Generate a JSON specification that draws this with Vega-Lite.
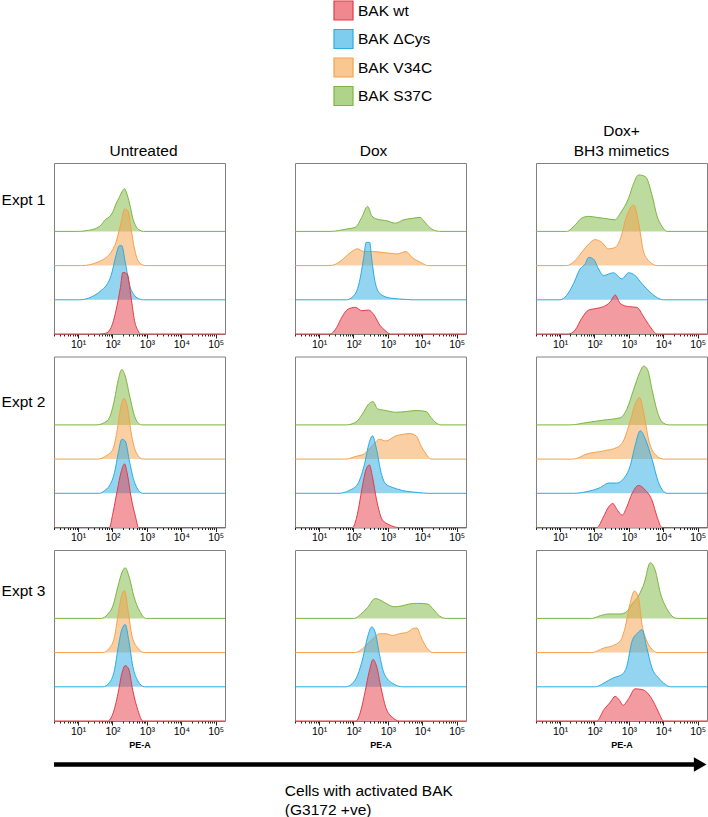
{
"$schema":"https://vega.github.io/schema/vega-lite/v6.json",
"padding":0,
"config":{"font":"Liberation Sans","view":{"stroke":"#808080","strokeWidth":1},
"axis":{"grid":false,"domain":false,"tickColor":"#222","labelColor":"#000","labelFont":"Liberation Sans"},
"title":{"fontSize":15.5,"fontWeight":"normal","color":"#000","offset":4,"lineHeight":20,"font":"Liberation Sans","frame":"group"},
"legend":{"orient":"none","legendX":279,"legendY":-163,"symbolType":"square","symbolSize":361,"labelFontSize":15.5,"labelColor":"#000","rowPadding":3.5,"labelOffset":4,"padding":0,"labelLimit":300}},
"datasets":{"hist":[
{"expt":1,"cond":"Untreated","bak":"BAK S37C","pe":0.3,"n":0},{"expt":1,"cond":"Untreated","bak":"BAK S37C","pe":1.0,"n":0},{"expt":1,"cond":"Untreated","bak":"BAK S37C","pe":1.3,"n":0.03},{"expt":1,"cond":"Untreated","bak":"BAK S37C","pe":1.5,"n":0.08},{"expt":1,"cond":"Untreated","bak":"BAK S37C","pe":1.65,"n":0.17},{"expt":1,"cond":"Untreated","bak":"BAK S37C","pe":1.8,"n":0.35},{"expt":1,"cond":"Untreated","bak":"BAK S37C","pe":1.9,"n":0.42},{"expt":1,"cond":"Untreated","bak":"BAK S37C","pe":2.0,"n":0.55},{"expt":1,"cond":"Untreated","bak":"BAK S37C","pe":2.1,"n":0.8},{"expt":1,"cond":"Untreated","bak":"BAK S37C","pe":2.2,"n":1.0},{"expt":1,"cond":"Untreated","bak":"BAK S37C","pe":2.3,"n":1.2},{"expt":1,"cond":"Untreated","bak":"BAK S37C","pe":2.35,"n":1.25},{"expt":1,"cond":"Untreated","bak":"BAK S37C","pe":2.4,"n":1.15},{"expt":1,"cond":"Untreated","bak":"BAK S37C","pe":2.5,"n":0.8},{"expt":1,"cond":"Untreated","bak":"BAK S37C","pe":2.6,"n":0.35},{"expt":1,"cond":"Untreated","bak":"BAK S37C","pe":2.7,"n":0.12},{"expt":1,"cond":"Untreated","bak":"BAK S37C","pe":2.8,"n":0.03},{"expt":1,"cond":"Untreated","bak":"BAK S37C","pe":2.9,"n":0},{"expt":1,"cond":"Untreated","bak":"BAK S37C","pe":5.27,"n":0},
{"expt":1,"cond":"Untreated","bak":"BAK V34C","pe":0.3,"n":0},{"expt":1,"cond":"Untreated","bak":"BAK V34C","pe":1.1,"n":0},{"expt":1,"cond":"Untreated","bak":"BAK V34C","pe":1.57,"n":0.1},{"expt":1,"cond":"Untreated","bak":"BAK V34C","pe":1.82,"n":0.24},{"expt":1,"cond":"Untreated","bak":"BAK V34C","pe":1.96,"n":0.39},{"expt":1,"cond":"Untreated","bak":"BAK V34C","pe":2.1,"n":0.68},{"expt":1,"cond":"Untreated","bak":"BAK V34C","pe":2.25,"n":1.26},{"expt":1,"cond":"Untreated","bak":"BAK V34C","pe":2.35,"n":1.65},{"expt":1,"cond":"Untreated","bak":"BAK V34C","pe":2.45,"n":1.6},{"expt":1,"cond":"Untreated","bak":"BAK V34C","pe":2.54,"n":1.07},{"expt":1,"cond":"Untreated","bak":"BAK V34C","pe":2.64,"n":0.49},{"expt":1,"cond":"Untreated","bak":"BAK V34C","pe":2.74,"n":0.15},{"expt":1,"cond":"Untreated","bak":"BAK V34C","pe":2.88,"n":0.02},{"expt":1,"cond":"Untreated","bak":"BAK V34C","pe":2.95,"n":0},{"expt":1,"cond":"Untreated","bak":"BAK V34C","pe":5.27,"n":0},
{"expt":1,"cond":"Untreated","bak":"BAK ΔCys","pe":0.3,"n":0},{"expt":1,"cond":"Untreated","bak":"BAK ΔCys","pe":1.05,"n":0},{"expt":1,"cond":"Untreated","bak":"BAK ΔCys","pe":1.38,"n":0.08},{"expt":1,"cond":"Untreated","bak":"BAK ΔCys","pe":1.67,"n":0.27},{"expt":1,"cond":"Untreated","bak":"BAK ΔCys","pe":1.82,"n":0.42},{"expt":1,"cond":"Untreated","bak":"BAK ΔCys","pe":1.96,"n":0.71},{"expt":1,"cond":"Untreated","bak":"BAK ΔCys","pe":2.1,"n":1.29},{"expt":1,"cond":"Untreated","bak":"BAK ΔCys","pe":2.2,"n":1.58},{"expt":1,"cond":"Untreated","bak":"BAK ΔCys","pe":2.27,"n":1.58},{"expt":1,"cond":"Untreated","bak":"BAK ΔCys","pe":2.37,"n":1.1},{"expt":1,"cond":"Untreated","bak":"BAK ΔCys","pe":2.5,"n":0.42},{"expt":1,"cond":"Untreated","bak":"BAK ΔCys","pe":2.64,"n":0.13},{"expt":1,"cond":"Untreated","bak":"BAK ΔCys","pe":2.79,"n":0.02},{"expt":1,"cond":"Untreated","bak":"BAK ΔCys","pe":2.9,"n":0},{"expt":1,"cond":"Untreated","bak":"BAK ΔCys","pe":5.27,"n":0},
{"expt":1,"cond":"Untreated","bak":"BAK wt","pe":0.3,"n":0},{"expt":1,"cond":"Untreated","bak":"BAK wt","pe":1.6,"n":0},{"expt":1,"cond":"Untreated","bak":"BAK wt","pe":1.8,"n":0.02},{"expt":1,"cond":"Untreated","bak":"BAK wt","pe":1.96,"n":0.19},{"expt":1,"cond":"Untreated","bak":"BAK wt","pe":2.1,"n":0.68},{"expt":1,"cond":"Untreated","bak":"BAK wt","pe":2.23,"n":1.36},{"expt":1,"cond":"Untreated","bak":"BAK wt","pe":2.3,"n":1.8},{"expt":1,"cond":"Untreated","bak":"BAK wt","pe":2.43,"n":1.75},{"expt":1,"cond":"Untreated","bak":"BAK wt","pe":2.54,"n":1.07},{"expt":1,"cond":"Untreated","bak":"BAK wt","pe":2.64,"n":0.39},{"expt":1,"cond":"Untreated","bak":"BAK wt","pe":2.74,"n":0.1},{"expt":1,"cond":"Untreated","bak":"BAK wt","pe":2.82,"n":0},{"expt":1,"cond":"Untreated","bak":"BAK wt","pe":5.27,"n":0},

{"expt":1,"cond":"Dox","bak":"BAK S37C","pe":0.3,"n":0},{"expt":1,"cond":"Dox","bak":"BAK S37C","pe":1.32,"n":0},{"expt":1,"cond":"Dox","bak":"BAK S37C","pe":1.8,"n":0.07},{"expt":1,"cond":"Dox","bak":"BAK S37C","pe":2.05,"n":0.12},{"expt":1,"cond":"Dox","bak":"BAK S37C","pe":2.24,"n":0.41},{"expt":1,"cond":"Dox","bak":"BAK S37C","pe":2.41,"n":0.73},{"expt":1,"cond":"Dox","bak":"BAK S37C","pe":2.53,"n":0.46},{"expt":1,"cond":"Dox","bak":"BAK S37C","pe":2.68,"n":0.36},{"expt":1,"cond":"Dox","bak":"BAK S37C","pe":2.97,"n":0.31},{"expt":1,"cond":"Dox","bak":"BAK S37C","pe":3.21,"n":0.24},{"expt":1,"cond":"Dox","bak":"BAK S37C","pe":3.46,"n":0.34},{"expt":1,"cond":"Dox","bak":"BAK S37C","pe":3.7,"n":0.38},{"expt":1,"cond":"Dox","bak":"BAK S37C","pe":3.94,"n":0.41},{"expt":1,"cond":"Dox","bak":"BAK S37C","pe":4.04,"n":0.31},{"expt":1,"cond":"Dox","bak":"BAK S37C","pe":4.23,"n":0.1},{"expt":1,"cond":"Dox","bak":"BAK S37C","pe":4.43,"n":0.01},{"expt":1,"cond":"Dox","bak":"BAK S37C","pe":4.5,"n":0},{"expt":1,"cond":"Dox","bak":"BAK S37C","pe":5.27,"n":0},
{"expt":1,"cond":"Dox","bak":"BAK V34C","pe":0.3,"n":0},{"expt":1,"cond":"Dox","bak":"BAK V34C","pe":1.32,"n":0},{"expt":1,"cond":"Dox","bak":"BAK V34C","pe":1.61,"n":0.12},{"expt":1,"cond":"Dox","bak":"BAK V34C","pe":1.8,"n":0.29},{"expt":1,"cond":"Dox","bak":"BAK V34C","pe":1.95,"n":0.41},{"expt":1,"cond":"Dox","bak":"BAK V34C","pe":2.12,"n":0.49},{"expt":1,"cond":"Dox","bak":"BAK V34C","pe":2.29,"n":0.41},{"expt":1,"cond":"Dox","bak":"BAK V34C","pe":2.58,"n":0.41},{"expt":1,"cond":"Dox","bak":"BAK V34C","pe":2.97,"n":0.37},{"expt":1,"cond":"Dox","bak":"BAK V34C","pe":3.26,"n":0.34},{"expt":1,"cond":"Dox","bak":"BAK V34C","pe":3.53,"n":0.41},{"expt":1,"cond":"Dox","bak":"BAK V34C","pe":3.7,"n":0.24},{"expt":1,"cond":"Dox","bak":"BAK V34C","pe":3.94,"n":0.1},{"expt":1,"cond":"Dox","bak":"BAK V34C","pe":4.09,"n":0.02},{"expt":1,"cond":"Dox","bak":"BAK V34C","pe":4.15,"n":0},{"expt":1,"cond":"Dox","bak":"BAK V34C","pe":5.27,"n":0},
{"expt":1,"cond":"Dox","bak":"BAK ΔCys","pe":0.3,"n":0},{"expt":1,"cond":"Dox","bak":"BAK ΔCys","pe":1.8,"n":0},{"expt":1,"cond":"Dox","bak":"BAK ΔCys","pe":2.05,"n":0.17},{"expt":1,"cond":"Dox","bak":"BAK ΔCys","pe":2.19,"n":0.61},{"expt":1,"cond":"Dox","bak":"BAK ΔCys","pe":2.29,"n":1.19},{"expt":1,"cond":"Dox","bak":"BAK ΔCys","pe":2.37,"n":1.68},{"expt":1,"cond":"Dox","bak":"BAK ΔCys","pe":2.47,"n":1.68},{"expt":1,"cond":"Dox","bak":"BAK ΔCys","pe":2.53,"n":1.19},{"expt":1,"cond":"Dox","bak":"BAK ΔCys","pe":2.63,"n":0.51},{"expt":1,"cond":"Dox","bak":"BAK ΔCys","pe":2.78,"n":0.17},{"expt":1,"cond":"Dox","bak":"BAK ΔCys","pe":3.07,"n":0.05},{"expt":1,"cond":"Dox","bak":"BAK ΔCys","pe":3.55,"n":0.01},{"expt":1,"cond":"Dox","bak":"BAK ΔCys","pe":3.7,"n":0},{"expt":1,"cond":"Dox","bak":"BAK ΔCys","pe":5.27,"n":0},
{"expt":1,"cond":"Dox","bak":"BAK wt","pe":0.3,"n":0},{"expt":1,"cond":"Dox","bak":"BAK wt","pe":1.32,"n":0},{"expt":1,"cond":"Dox","bak":"BAK wt","pe":1.51,"n":0.19},{"expt":1,"cond":"Dox","bak":"BAK wt","pe":1.66,"n":0.49},{"expt":1,"cond":"Dox","bak":"BAK wt","pe":1.85,"n":0.73},{"expt":1,"cond":"Dox","bak":"BAK wt","pe":2.05,"n":0.78},{"expt":1,"cond":"Dox","bak":"BAK wt","pe":2.24,"n":0.68},{"expt":1,"cond":"Dox","bak":"BAK wt","pe":2.44,"n":0.7},{"expt":1,"cond":"Dox","bak":"BAK wt","pe":2.58,"n":0.58},{"expt":1,"cond":"Dox","bak":"BAK wt","pe":2.78,"n":0.24},{"expt":1,"cond":"Dox","bak":"BAK wt","pe":2.92,"n":0.1},{"expt":1,"cond":"Dox","bak":"BAK wt","pe":3.07,"n":0},{"expt":1,"cond":"Dox","bak":"BAK wt","pe":5.27,"n":0},

{"expt":1,"cond":"Dox+BH3","bak":"BAK S37C","pe":0.3,"n":0},{"expt":1,"cond":"Dox+BH3","bak":"BAK S37C","pe":1.19,"n":0},{"expt":1,"cond":"Dox+BH3","bak":"BAK S37C","pe":1.44,"n":0.19},{"expt":1,"cond":"Dox+BH3","bak":"BAK S37C","pe":1.63,"n":0.39},{"expt":1,"cond":"Dox+BH3","bak":"BAK S37C","pe":1.83,"n":0.44},{"expt":1,"cond":"Dox+BH3","bak":"BAK S37C","pe":2.07,"n":0.41},{"expt":1,"cond":"Dox+BH3","bak":"BAK S37C","pe":2.36,"n":0.37},{"expt":1,"cond":"Dox+BH3","bak":"BAK S37C","pe":2.6,"n":0.34},{"expt":1,"cond":"Dox+BH3","bak":"BAK S37C","pe":2.75,"n":0.53},{"expt":1,"cond":"Dox+BH3","bak":"BAK S37C","pe":2.99,"n":0.97},{"expt":1,"cond":"Dox+BH3","bak":"BAK S37C","pe":3.14,"n":1.41},{"expt":1,"cond":"Dox+BH3","bak":"BAK S37C","pe":3.28,"n":1.65},{"expt":1,"cond":"Dox+BH3","bak":"BAK S37C","pe":3.48,"n":1.6},{"expt":1,"cond":"Dox+BH3","bak":"BAK S37C","pe":3.67,"n":1.07},{"expt":1,"cond":"Dox+BH3","bak":"BAK S37C","pe":3.82,"n":0.44},{"expt":1,"cond":"Dox+BH3","bak":"BAK S37C","pe":3.96,"n":0.15},{"expt":1,"cond":"Dox+BH3","bak":"BAK S37C","pe":4.11,"n":0},{"expt":1,"cond":"Dox+BH3","bak":"BAK S37C","pe":5.27,"n":0},
{"expt":1,"cond":"Dox+BH3","bak":"BAK V34C","pe":0.3,"n":0},{"expt":1,"cond":"Dox+BH3","bak":"BAK V34C","pe":1.19,"n":0},{"expt":1,"cond":"Dox+BH3","bak":"BAK V34C","pe":1.44,"n":0.15},{"expt":1,"cond":"Dox+BH3","bak":"BAK V34C","pe":1.63,"n":0.39},{"expt":1,"cond":"Dox+BH3","bak":"BAK V34C","pe":1.83,"n":0.63},{"expt":1,"cond":"Dox+BH3","bak":"BAK V34C","pe":2.02,"n":0.76},{"expt":1,"cond":"Dox+BH3","bak":"BAK V34C","pe":2.21,"n":0.68},{"expt":1,"cond":"Dox+BH3","bak":"BAK V34C","pe":2.41,"n":0.49},{"expt":1,"cond":"Dox+BH3","bak":"BAK V34C","pe":2.6,"n":0.53},{"expt":1,"cond":"Dox+BH3","bak":"BAK V34C","pe":2.75,"n":0.78},{"expt":1,"cond":"Dox+BH3","bak":"BAK V34C","pe":2.94,"n":1.46},{"expt":1,"cond":"Dox+BH3","bak":"BAK V34C","pe":3.14,"n":1.77},{"expt":1,"cond":"Dox+BH3","bak":"BAK V34C","pe":3.28,"n":1.26},{"expt":1,"cond":"Dox+BH3","bak":"BAK V34C","pe":3.43,"n":0.39},{"expt":1,"cond":"Dox+BH3","bak":"BAK V34C","pe":3.62,"n":0.1},{"expt":1,"cond":"Dox+BH3","bak":"BAK V34C","pe":3.82,"n":0},{"expt":1,"cond":"Dox+BH3","bak":"BAK V34C","pe":5.27,"n":0},
{"expt":1,"cond":"Dox+BH3","bak":"BAK ΔCys","pe":0.3,"n":0},{"expt":1,"cond":"Dox+BH3","bak":"BAK ΔCys","pe":1.0,"n":0},{"expt":1,"cond":"Dox+BH3","bak":"BAK ΔCys","pe":1.19,"n":0.13},{"expt":1,"cond":"Dox+BH3","bak":"BAK ΔCys","pe":1.39,"n":0.47},{"expt":1,"cond":"Dox+BH3","bak":"BAK ΔCys","pe":1.58,"n":0.9},{"expt":1,"cond":"Dox+BH3","bak":"BAK ΔCys","pe":1.73,"n":1.05},{"expt":1,"cond":"Dox+BH3","bak":"BAK ΔCys","pe":1.83,"n":1.24},{"expt":1,"cond":"Dox+BH3","bak":"BAK ΔCys","pe":1.97,"n":1.19},{"expt":1,"cond":"Dox+BH3","bak":"BAK ΔCys","pe":2.12,"n":0.9},{"expt":1,"cond":"Dox+BH3","bak":"BAK ΔCys","pe":2.26,"n":0.71},{"expt":1,"cond":"Dox+BH3","bak":"BAK ΔCys","pe":2.55,"n":0.79},{"expt":1,"cond":"Dox+BH3","bak":"BAK ΔCys","pe":2.8,"n":0.61},{"expt":1,"cond":"Dox+BH3","bak":"BAK ΔCys","pe":2.99,"n":0.79},{"expt":1,"cond":"Dox+BH3","bak":"BAK ΔCys","pe":3.18,"n":0.71},{"expt":1,"cond":"Dox+BH3","bak":"BAK ΔCys","pe":3.38,"n":0.47},{"expt":1,"cond":"Dox+BH3","bak":"BAK ΔCys","pe":3.62,"n":0.22},{"expt":1,"cond":"Dox+BH3","bak":"BAK ΔCys","pe":3.91,"n":0.02},{"expt":1,"cond":"Dox+BH3","bak":"BAK ΔCys","pe":4.0,"n":0},{"expt":1,"cond":"Dox+BH3","bak":"BAK ΔCys","pe":5.27,"n":0},
{"expt":1,"cond":"Dox+BH3","bak":"BAK wt","pe":0.3,"n":0},{"expt":1,"cond":"Dox+BH3","bak":"BAK wt","pe":1.24,"n":0},{"expt":1,"cond":"Dox+BH3","bak":"BAK wt","pe":1.44,"n":0.12},{"expt":1,"cond":"Dox+BH3","bak":"BAK wt","pe":1.63,"n":0.46},{"expt":1,"cond":"Dox+BH3","bak":"BAK wt","pe":1.83,"n":0.7},{"expt":1,"cond":"Dox+BH3","bak":"BAK wt","pe":2.07,"n":0.75},{"expt":1,"cond":"Dox+BH3","bak":"BAK wt","pe":2.26,"n":0.8},{"expt":1,"cond":"Dox+BH3","bak":"BAK wt","pe":2.46,"n":0.94},{"expt":1,"cond":"Dox+BH3","bak":"BAK wt","pe":2.6,"n":1.14},{"expt":1,"cond":"Dox+BH3","bak":"BAK wt","pe":2.75,"n":0.89},{"expt":1,"cond":"Dox+BH3","bak":"BAK wt","pe":2.99,"n":0.8},{"expt":1,"cond":"Dox+BH3","bak":"BAK wt","pe":3.23,"n":0.78},{"expt":1,"cond":"Dox+BH3","bak":"BAK wt","pe":3.43,"n":0.5},{"expt":1,"cond":"Dox+BH3","bak":"BAK wt","pe":3.62,"n":0.21},{"expt":1,"cond":"Dox+BH3","bak":"BAK wt","pe":3.82,"n":0},{"expt":1,"cond":"Dox+BH3","bak":"BAK wt","pe":5.27,"n":0},

{"expt":2,"cond":"Untreated","bak":"BAK S37C","pe":0.3,"n":0},{"expt":2,"cond":"Untreated","bak":"BAK S37C","pe":1.52,"n":0},{"expt":2,"cond":"Untreated","bak":"BAK S37C","pe":1.77,"n":0.07},{"expt":2,"cond":"Untreated","bak":"BAK S37C","pe":1.91,"n":0.21},{"expt":2,"cond":"Untreated","bak":"BAK S37C","pe":2.06,"n":0.75},{"expt":2,"cond":"Untreated","bak":"BAK S37C","pe":2.17,"n":1.33},{"expt":2,"cond":"Untreated","bak":"BAK S37C","pe":2.27,"n":1.62},{"expt":2,"cond":"Untreated","bak":"BAK S37C","pe":2.37,"n":1.43},{"expt":2,"cond":"Untreated","bak":"BAK S37C","pe":2.5,"n":0.84},{"expt":2,"cond":"Untreated","bak":"BAK S37C","pe":2.64,"n":0.26},{"expt":2,"cond":"Untreated","bak":"BAK S37C","pe":2.79,"n":0.02},{"expt":2,"cond":"Untreated","bak":"BAK S37C","pe":2.85,"n":0},{"expt":2,"cond":"Untreated","bak":"BAK S37C","pe":5.27,"n":0},
{"expt":2,"cond":"Untreated","bak":"BAK V34C","pe":0.3,"n":0},{"expt":2,"cond":"Untreated","bak":"BAK V34C","pe":1.57,"n":0},{"expt":2,"cond":"Untreated","bak":"BAK V34C","pe":1.82,"n":0.1},{"expt":2,"cond":"Untreated","bak":"BAK V34C","pe":2.01,"n":0.29},{"expt":2,"cond":"Untreated","bak":"BAK V34C","pe":2.14,"n":0.87},{"expt":2,"cond":"Untreated","bak":"BAK V34C","pe":2.23,"n":1.46},{"expt":2,"cond":"Untreated","bak":"BAK V34C","pe":2.33,"n":1.77},{"expt":2,"cond":"Untreated","bak":"BAK V34C","pe":2.43,"n":1.55},{"expt":2,"cond":"Untreated","bak":"BAK V34C","pe":2.54,"n":0.78},{"expt":2,"cond":"Untreated","bak":"BAK V34C","pe":2.69,"n":0.19},{"expt":2,"cond":"Untreated","bak":"BAK V34C","pe":2.88,"n":0},{"expt":2,"cond":"Untreated","bak":"BAK V34C","pe":5.27,"n":0},
{"expt":2,"cond":"Untreated","bak":"BAK ΔCys","pe":0.3,"n":0},{"expt":2,"cond":"Untreated","bak":"BAK ΔCys","pe":1.62,"n":0},{"expt":2,"cond":"Untreated","bak":"BAK ΔCys","pe":1.77,"n":0.08},{"expt":2,"cond":"Untreated","bak":"BAK ΔCys","pe":1.91,"n":0.22},{"expt":2,"cond":"Untreated","bak":"BAK ΔCys","pe":2.06,"n":0.61},{"expt":2,"cond":"Untreated","bak":"BAK ΔCys","pe":2.17,"n":1.19},{"expt":2,"cond":"Untreated","bak":"BAK ΔCys","pe":2.27,"n":1.58},{"expt":2,"cond":"Untreated","bak":"BAK ΔCys","pe":2.37,"n":1.53},{"expt":2,"cond":"Untreated","bak":"BAK ΔCys","pe":2.5,"n":0.9},{"expt":2,"cond":"Untreated","bak":"BAK ΔCys","pe":2.64,"n":0.32},{"expt":2,"cond":"Untreated","bak":"BAK ΔCys","pe":2.88,"n":0},{"expt":2,"cond":"Untreated","bak":"BAK ΔCys","pe":5.27,"n":0},
{"expt":2,"cond":"Untreated","bak":"BAK wt","pe":0.3,"n":0},{"expt":2,"cond":"Untreated","bak":"BAK wt","pe":1.91,"n":0},{"expt":2,"cond":"Untreated","bak":"BAK wt","pe":2.01,"n":0.41},{"expt":2,"cond":"Untreated","bak":"BAK wt","pe":2.14,"n":1.09},{"expt":2,"cond":"Untreated","bak":"BAK wt","pe":2.25,"n":1.62},{"expt":2,"cond":"Untreated","bak":"BAK wt","pe":2.35,"n":1.86},{"expt":2,"cond":"Untreated","bak":"BAK wt","pe":2.43,"n":1.57},{"expt":2,"cond":"Untreated","bak":"BAK wt","pe":2.54,"n":0.89},{"expt":2,"cond":"Untreated","bak":"BAK wt","pe":2.67,"n":0.31},{"expt":2,"cond":"Untreated","bak":"BAK wt","pe":2.76,"n":0},{"expt":2,"cond":"Untreated","bak":"BAK wt","pe":5.27,"n":0},

{"expt":2,"cond":"Dox","bak":"BAK S37C","pe":0.3,"n":0},{"expt":2,"cond":"Dox","bak":"BAK S37C","pe":1.78,"n":0},{"expt":2,"cond":"Dox","bak":"BAK S37C","pe":2.07,"n":0.08},{"expt":2,"cond":"Dox","bak":"BAK S37C","pe":2.26,"n":0.32},{"expt":2,"cond":"Dox","bak":"BAK S37C","pe":2.44,"n":0.61},{"expt":2,"cond":"Dox","bak":"BAK S37C","pe":2.57,"n":0.68},{"expt":2,"cond":"Dox","bak":"BAK S37C","pe":2.7,"n":0.47},{"expt":2,"cond":"Dox","bak":"BAK S37C","pe":2.94,"n":0.42},{"expt":2,"cond":"Dox","bak":"BAK S37C","pe":3.23,"n":0.37},{"expt":2,"cond":"Dox","bak":"BAK S37C","pe":3.52,"n":0.39},{"expt":2,"cond":"Dox","bak":"BAK S37C","pe":3.82,"n":0.42},{"expt":2,"cond":"Dox","bak":"BAK S37C","pe":4.11,"n":0.39},{"expt":2,"cond":"Dox","bak":"BAK S37C","pe":4.25,"n":0.22},{"expt":2,"cond":"Dox","bak":"BAK S37C","pe":4.4,"n":0.06},{"expt":2,"cond":"Dox","bak":"BAK S37C","pe":4.54,"n":0},{"expt":2,"cond":"Dox","bak":"BAK S37C","pe":5.27,"n":0},
{"expt":2,"cond":"Dox","bak":"BAK V34C","pe":0.3,"n":0},{"expt":2,"cond":"Dox","bak":"BAK V34C","pe":1.78,"n":0},{"expt":2,"cond":"Dox","bak":"BAK V34C","pe":2.07,"n":0.08},{"expt":2,"cond":"Dox","bak":"BAK V34C","pe":2.31,"n":0.15},{"expt":2,"cond":"Dox","bak":"BAK V34C","pe":2.55,"n":0.39},{"expt":2,"cond":"Dox","bak":"BAK V34C","pe":2.75,"n":0.58},{"expt":2,"cond":"Dox","bak":"BAK V34C","pe":2.94,"n":0.53},{"expt":2,"cond":"Dox","bak":"BAK V34C","pe":3.23,"n":0.68},{"expt":2,"cond":"Dox","bak":"BAK V34C","pe":3.48,"n":0.73},{"expt":2,"cond":"Dox","bak":"BAK V34C","pe":3.62,"n":0.75},{"expt":2,"cond":"Dox","bak":"BAK V34C","pe":3.82,"n":0.68},{"expt":2,"cond":"Dox","bak":"BAK V34C","pe":3.96,"n":0.39},{"expt":2,"cond":"Dox","bak":"BAK V34C","pe":4.11,"n":0.15},{"expt":2,"cond":"Dox","bak":"BAK V34C","pe":4.25,"n":0},{"expt":2,"cond":"Dox","bak":"BAK V34C","pe":5.27,"n":0},
{"expt":2,"cond":"Dox","bak":"BAK ΔCys","pe":0.3,"n":0},{"expt":2,"cond":"Dox","bak":"BAK ΔCys","pe":1.58,"n":0},{"expt":2,"cond":"Dox","bak":"BAK ΔCys","pe":1.87,"n":0.08},{"expt":2,"cond":"Dox","bak":"BAK ΔCys","pe":2.12,"n":0.27},{"expt":2,"cond":"Dox","bak":"BAK ΔCys","pe":2.31,"n":0.81},{"expt":2,"cond":"Dox","bak":"BAK ΔCys","pe":2.46,"n":1.49},{"expt":2,"cond":"Dox","bak":"BAK ΔCys","pe":2.55,"n":1.68},{"expt":2,"cond":"Dox","bak":"BAK ΔCys","pe":2.67,"n":1.29},{"expt":2,"cond":"Dox","bak":"BAK ΔCys","pe":2.8,"n":0.61},{"expt":2,"cond":"Dox","bak":"BAK ΔCys","pe":2.94,"n":0.27},{"expt":2,"cond":"Dox","bak":"BAK ΔCys","pe":3.14,"n":0.17},{"expt":2,"cond":"Dox","bak":"BAK ΔCys","pe":3.43,"n":0.08},{"expt":2,"cond":"Dox","bak":"BAK ΔCys","pe":3.91,"n":0.02},{"expt":2,"cond":"Dox","bak":"BAK ΔCys","pe":4.16,"n":0},{"expt":2,"cond":"Dox","bak":"BAK ΔCys","pe":5.27,"n":0},
{"expt":2,"cond":"Dox","bak":"BAK wt","pe":0.3,"n":0},{"expt":2,"cond":"Dox","bak":"BAK wt","pe":1.97,"n":0},{"expt":2,"cond":"Dox","bak":"BAK wt","pe":2.12,"n":0.42},{"expt":2,"cond":"Dox","bak":"BAK wt","pe":2.24,"n":1.1},{"expt":2,"cond":"Dox","bak":"BAK wt","pe":2.36,"n":1.68},{"expt":2,"cond":"Dox","bak":"BAK wt","pe":2.46,"n":1.83},{"expt":2,"cond":"Dox","bak":"BAK wt","pe":2.55,"n":1.49},{"expt":2,"cond":"Dox","bak":"BAK wt","pe":2.67,"n":0.81},{"expt":2,"cond":"Dox","bak":"BAK wt","pe":2.84,"n":0.22},{"expt":2,"cond":"Dox","bak":"BAK wt","pe":3.04,"n":0.08},{"expt":2,"cond":"Dox","bak":"BAK wt","pe":3.33,"n":0},{"expt":2,"cond":"Dox","bak":"BAK wt","pe":5.27,"n":0},

{"expt":2,"cond":"Dox+BH3","bak":"BAK S37C","pe":0.3,"n":0},{"expt":2,"cond":"Dox+BH3","bak":"BAK S37C","pe":1.29,"n":0},{"expt":2,"cond":"Dox+BH3","bak":"BAK S37C","pe":1.78,"n":0.07},{"expt":2,"cond":"Dox+BH3","bak":"BAK S37C","pe":2.26,"n":0.14},{"expt":2,"cond":"Dox+BH3","bak":"BAK S37C","pe":2.75,"n":0.21},{"expt":2,"cond":"Dox+BH3","bak":"BAK S37C","pe":2.94,"n":0.46},{"expt":2,"cond":"Dox+BH3","bak":"BAK S37C","pe":3.14,"n":1.04},{"expt":2,"cond":"Dox+BH3","bak":"BAK S37C","pe":3.31,"n":1.52},{"expt":2,"cond":"Dox+BH3","bak":"BAK S37C","pe":3.43,"n":1.72},{"expt":2,"cond":"Dox+BH3","bak":"BAK S37C","pe":3.54,"n":1.62},{"expt":2,"cond":"Dox+BH3","bak":"BAK S37C","pe":3.67,"n":1.04},{"expt":2,"cond":"Dox+BH3","bak":"BAK S37C","pe":3.82,"n":0.41},{"expt":2,"cond":"Dox+BH3","bak":"BAK S37C","pe":3.96,"n":0.09},{"expt":2,"cond":"Dox+BH3","bak":"BAK S37C","pe":4.16,"n":0},{"expt":2,"cond":"Dox+BH3","bak":"BAK S37C","pe":5.27,"n":0},
{"expt":2,"cond":"Dox+BH3","bak":"BAK V34C","pe":0.3,"n":0},{"expt":2,"cond":"Dox+BH3","bak":"BAK V34C","pe":1.39,"n":0},{"expt":2,"cond":"Dox+BH3","bak":"BAK V34C","pe":1.78,"n":0.15},{"expt":2,"cond":"Dox+BH3","bak":"BAK V34C","pe":2.26,"n":0.24},{"expt":2,"cond":"Dox+BH3","bak":"BAK V34C","pe":2.65,"n":0.34},{"expt":2,"cond":"Dox+BH3","bak":"BAK V34C","pe":2.84,"n":0.53},{"expt":2,"cond":"Dox+BH3","bak":"BAK V34C","pe":3.04,"n":1.12},{"expt":2,"cond":"Dox+BH3","bak":"BAK V34C","pe":3.18,"n":1.6},{"expt":2,"cond":"Dox+BH3","bak":"BAK V34C","pe":3.31,"n":1.8},{"expt":2,"cond":"Dox+BH3","bak":"BAK V34C","pe":3.43,"n":1.36},{"expt":2,"cond":"Dox+BH3","bak":"BAK V34C","pe":3.57,"n":0.58},{"expt":2,"cond":"Dox+BH3","bak":"BAK V34C","pe":3.72,"n":0.19},{"expt":2,"cond":"Dox+BH3","bak":"BAK V34C","pe":4.01,"n":0},{"expt":2,"cond":"Dox+BH3","bak":"BAK V34C","pe":5.27,"n":0},
{"expt":2,"cond":"Dox+BH3","bak":"BAK ΔCys","pe":0.3,"n":0},{"expt":2,"cond":"Dox+BH3","bak":"BAK ΔCys","pe":1.39,"n":0},{"expt":2,"cond":"Dox+BH3","bak":"BAK ΔCys","pe":1.78,"n":0.05},{"expt":2,"cond":"Dox+BH3","bak":"BAK ΔCys","pe":2.17,"n":0.17},{"expt":2,"cond":"Dox+BH3","bak":"BAK ΔCys","pe":2.41,"n":0.3},{"expt":2,"cond":"Dox+BH3","bak":"BAK ΔCys","pe":2.65,"n":0.3},{"expt":2,"cond":"Dox+BH3","bak":"BAK ΔCys","pe":2.84,"n":0.42},{"expt":2,"cond":"Dox+BH3","bak":"BAK ΔCys","pe":3.04,"n":0.81},{"expt":2,"cond":"Dox+BH3","bak":"BAK ΔCys","pe":3.18,"n":1.39},{"expt":2,"cond":"Dox+BH3","bak":"BAK ΔCys","pe":3.33,"n":1.83},{"expt":2,"cond":"Dox+BH3","bak":"BAK ΔCys","pe":3.48,"n":1.58},{"expt":2,"cond":"Dox+BH3","bak":"BAK ΔCys","pe":3.67,"n":1.0},{"expt":2,"cond":"Dox+BH3","bak":"BAK ΔCys","pe":3.86,"n":0.32},{"expt":2,"cond":"Dox+BH3","bak":"BAK ΔCys","pe":4.11,"n":0},{"expt":2,"cond":"Dox+BH3","bak":"BAK ΔCys","pe":5.27,"n":0},
{"expt":2,"cond":"Dox+BH3","bak":"BAK wt","pe":0.3,"n":0},{"expt":2,"cond":"Dox+BH3","bak":"BAK wt","pe":2.07,"n":0},{"expt":2,"cond":"Dox+BH3","bak":"BAK wt","pe":2.26,"n":0.31},{"expt":2,"cond":"Dox+BH3","bak":"BAK wt","pe":2.41,"n":0.6},{"expt":2,"cond":"Dox+BH3","bak":"BAK wt","pe":2.53,"n":0.7},{"expt":2,"cond":"Dox+BH3","bak":"BAK wt","pe":2.67,"n":0.5},{"expt":2,"cond":"Dox+BH3","bak":"BAK wt","pe":2.8,"n":0.36},{"expt":2,"cond":"Dox+BH3","bak":"BAK wt","pe":2.94,"n":0.6},{"expt":2,"cond":"Dox+BH3","bak":"BAK wt","pe":3.09,"n":0.99},{"expt":2,"cond":"Dox+BH3","bak":"BAK wt","pe":3.28,"n":1.23},{"expt":2,"cond":"Dox+BH3","bak":"BAK wt","pe":3.48,"n":1.09},{"expt":2,"cond":"Dox+BH3","bak":"BAK wt","pe":3.67,"n":0.8},{"expt":2,"cond":"Dox+BH3","bak":"BAK wt","pe":3.82,"n":0.31},{"expt":2,"cond":"Dox+BH3","bak":"BAK wt","pe":3.96,"n":0},{"expt":2,"cond":"Dox+BH3","bak":"BAK wt","pe":5.27,"n":0},

{"expt":3,"cond":"Untreated","bak":"BAK S37C","pe":0.3,"n":0},{"expt":3,"cond":"Untreated","bak":"BAK S37C","pe":1.67,"n":0},{"expt":3,"cond":"Untreated","bak":"BAK S37C","pe":1.86,"n":0.12},{"expt":3,"cond":"Untreated","bak":"BAK S37C","pe":2.01,"n":0.36},{"expt":3,"cond":"Untreated","bak":"BAK S37C","pe":2.16,"n":0.94},{"expt":3,"cond":"Untreated","bak":"BAK S37C","pe":2.27,"n":1.33},{"expt":3,"cond":"Untreated","bak":"BAK S37C","pe":2.37,"n":1.48},{"expt":3,"cond":"Untreated","bak":"BAK S37C","pe":2.48,"n":1.23},{"expt":3,"cond":"Untreated","bak":"BAK S37C","pe":2.62,"n":0.65},{"expt":3,"cond":"Untreated","bak":"BAK S37C","pe":2.79,"n":0.21},{"expt":3,"cond":"Untreated","bak":"BAK S37C","pe":2.98,"n":0},{"expt":3,"cond":"Untreated","bak":"BAK S37C","pe":5.27,"n":0},
{"expt":3,"cond":"Untreated","bak":"BAK V34C","pe":0.3,"n":0},{"expt":3,"cond":"Untreated","bak":"BAK V34C","pe":1.72,"n":0},{"expt":3,"cond":"Untreated","bak":"BAK V34C","pe":1.91,"n":0.13},{"expt":3,"cond":"Untreated","bak":"BAK V34C","pe":2.06,"n":0.47},{"expt":3,"cond":"Untreated","bak":"BAK V34C","pe":2.17,"n":1.15},{"expt":3,"cond":"Untreated","bak":"BAK V34C","pe":2.27,"n":1.68},{"expt":3,"cond":"Untreated","bak":"BAK V34C","pe":2.35,"n":1.81},{"expt":3,"cond":"Untreated","bak":"BAK V34C","pe":2.45,"n":1.24},{"expt":3,"cond":"Untreated","bak":"BAK V34C","pe":2.57,"n":0.47},{"expt":3,"cond":"Untreated","bak":"BAK V34C","pe":2.74,"n":0.13},{"expt":3,"cond":"Untreated","bak":"BAK V34C","pe":2.93,"n":0},{"expt":3,"cond":"Untreated","bak":"BAK V34C","pe":5.27,"n":0},
{"expt":3,"cond":"Untreated","bak":"BAK ΔCys","pe":0.3,"n":0},{"expt":3,"cond":"Untreated","bak":"BAK ΔCys","pe":1.72,"n":0},{"expt":3,"cond":"Untreated","bak":"BAK ΔCys","pe":1.91,"n":0.12},{"expt":3,"cond":"Untreated","bak":"BAK ΔCys","pe":2.06,"n":0.5},{"expt":3,"cond":"Untreated","bak":"BAK ΔCys","pe":2.17,"n":1.18},{"expt":3,"cond":"Untreated","bak":"BAK ΔCys","pe":2.27,"n":1.67},{"expt":3,"cond":"Untreated","bak":"BAK ΔCys","pe":2.37,"n":1.82},{"expt":3,"cond":"Untreated","bak":"BAK ΔCys","pe":2.47,"n":1.38},{"expt":3,"cond":"Untreated","bak":"BAK ΔCys","pe":2.59,"n":0.6},{"expt":3,"cond":"Untreated","bak":"BAK ΔCys","pe":2.74,"n":0.17},{"expt":3,"cond":"Untreated","bak":"BAK ΔCys","pe":2.93,"n":0},{"expt":3,"cond":"Untreated","bak":"BAK ΔCys","pe":5.27,"n":0},
{"expt":3,"cond":"Untreated","bak":"BAK wt","pe":0.3,"n":0},{"expt":3,"cond":"Untreated","bak":"BAK wt","pe":1.86,"n":0},{"expt":3,"cond":"Untreated","bak":"BAK wt","pe":2.01,"n":0.21},{"expt":3,"cond":"Untreated","bak":"BAK wt","pe":2.16,"n":0.8},{"expt":3,"cond":"Untreated","bak":"BAK wt","pe":2.27,"n":1.38},{"expt":3,"cond":"Untreated","bak":"BAK wt","pe":2.37,"n":1.62},{"expt":3,"cond":"Untreated","bak":"BAK wt","pe":2.47,"n":1.52},{"expt":3,"cond":"Untreated","bak":"BAK wt","pe":2.59,"n":0.89},{"expt":3,"cond":"Untreated","bak":"BAK wt","pe":2.74,"n":0.31},{"expt":3,"cond":"Untreated","bak":"BAK wt","pe":2.88,"n":0},{"expt":3,"cond":"Untreated","bak":"BAK wt","pe":5.27,"n":0},

{"expt":3,"cond":"Dox","bak":"BAK S37C","pe":0.3,"n":0},{"expt":3,"cond":"Dox","bak":"BAK S37C","pe":2.02,"n":0},{"expt":3,"cond":"Dox","bak":"BAK S37C","pe":2.21,"n":0.12},{"expt":3,"cond":"Dox","bak":"BAK S37C","pe":2.41,"n":0.32},{"expt":3,"cond":"Dox","bak":"BAK S37C","pe":2.63,"n":0.58},{"expt":3,"cond":"Dox","bak":"BAK S37C","pe":2.75,"n":0.55},{"expt":3,"cond":"Dox","bak":"BAK S37C","pe":2.94,"n":0.44},{"expt":3,"cond":"Dox","bak":"BAK S37C","pe":3.18,"n":0.34},{"expt":3,"cond":"Dox","bak":"BAK S37C","pe":3.38,"n":0.36},{"expt":3,"cond":"Dox","bak":"BAK S37C","pe":3.62,"n":0.42},{"expt":3,"cond":"Dox","bak":"BAK S37C","pe":3.86,"n":0.44},{"expt":3,"cond":"Dox","bak":"BAK S37C","pe":4.16,"n":0.42},{"expt":3,"cond":"Dox","bak":"BAK S37C","pe":4.3,"n":0.29},{"expt":3,"cond":"Dox","bak":"BAK S37C","pe":4.5,"n":0.07},{"expt":3,"cond":"Dox","bak":"BAK S37C","pe":4.69,"n":0},{"expt":3,"cond":"Dox","bak":"BAK S37C","pe":5.27,"n":0},
{"expt":3,"cond":"Dox","bak":"BAK V34C","pe":0.3,"n":0},{"expt":3,"cond":"Dox","bak":"BAK V34C","pe":2.02,"n":0},{"expt":3,"cond":"Dox","bak":"BAK V34C","pe":2.21,"n":0.07},{"expt":3,"cond":"Dox","bak":"BAK V34C","pe":2.41,"n":0.26},{"expt":3,"cond":"Dox","bak":"BAK V34C","pe":2.57,"n":0.41},{"expt":3,"cond":"Dox","bak":"BAK V34C","pe":2.75,"n":0.55},{"expt":3,"cond":"Dox","bak":"BAK V34C","pe":2.94,"n":0.55},{"expt":3,"cond":"Dox","bak":"BAK V34C","pe":3.14,"n":0.5},{"expt":3,"cond":"Dox","bak":"BAK V34C","pe":3.33,"n":0.55},{"expt":3,"cond":"Dox","bak":"BAK V34C","pe":3.57,"n":0.6},{"expt":3,"cond":"Dox","bak":"BAK V34C","pe":3.72,"n":0.7},{"expt":3,"cond":"Dox","bak":"BAK V34C","pe":3.84,"n":0.72},{"expt":3,"cond":"Dox","bak":"BAK V34C","pe":3.96,"n":0.46},{"expt":3,"cond":"Dox","bak":"BAK V34C","pe":4.11,"n":0.17},{"expt":3,"cond":"Dox","bak":"BAK V34C","pe":4.3,"n":0},{"expt":3,"cond":"Dox","bak":"BAK V34C","pe":5.27,"n":0},
{"expt":3,"cond":"Dox","bak":"BAK ΔCys","pe":0.3,"n":0},{"expt":3,"cond":"Dox","bak":"BAK ΔCys","pe":1.78,"n":0},{"expt":3,"cond":"Dox","bak":"BAK ΔCys","pe":1.97,"n":0.1},{"expt":3,"cond":"Dox","bak":"BAK ΔCys","pe":2.12,"n":0.34},{"expt":3,"cond":"Dox","bak":"BAK ΔCys","pe":2.28,"n":0.87},{"expt":3,"cond":"Dox","bak":"BAK ΔCys","pe":2.41,"n":1.46},{"expt":3,"cond":"Dox","bak":"BAK ΔCys","pe":2.53,"n":1.75},{"expt":3,"cond":"Dox","bak":"BAK ΔCys","pe":2.63,"n":1.6},{"expt":3,"cond":"Dox","bak":"BAK ΔCys","pe":2.75,"n":0.97},{"expt":3,"cond":"Dox","bak":"BAK ΔCys","pe":2.89,"n":0.39},{"expt":3,"cond":"Dox","bak":"BAK ΔCys","pe":3.14,"n":0.1},{"expt":3,"cond":"Dox","bak":"BAK ΔCys","pe":3.43,"n":0},{"expt":3,"cond":"Dox","bak":"BAK ΔCys","pe":5.27,"n":0},
{"expt":3,"cond":"Dox","bak":"BAK wt","pe":0.3,"n":0},{"expt":3,"cond":"Dox","bak":"BAK wt","pe":2.07,"n":0},{"expt":3,"cond":"Dox","bak":"BAK wt","pe":2.21,"n":0.29},{"expt":3,"cond":"Dox","bak":"BAK wt","pe":2.34,"n":0.87},{"expt":3,"cond":"Dox","bak":"BAK wt","pe":2.46,"n":1.46},{"expt":3,"cond":"Dox","bak":"BAK wt","pe":2.57,"n":1.8},{"expt":3,"cond":"Dox","bak":"BAK wt","pe":2.67,"n":1.6},{"expt":3,"cond":"Dox","bak":"BAK wt","pe":2.8,"n":0.97},{"expt":3,"cond":"Dox","bak":"BAK wt","pe":2.94,"n":0.39},{"expt":3,"cond":"Dox","bak":"BAK wt","pe":3.14,"n":0.1},{"expt":3,"cond":"Dox","bak":"BAK wt","pe":3.33,"n":0},{"expt":3,"cond":"Dox","bak":"BAK wt","pe":5.27,"n":0},

{"expt":3,"cond":"Dox+BH3","bak":"BAK S37C","pe":0.3,"n":0},{"expt":3,"cond":"Dox+BH3","bak":"BAK S37C","pe":1.92,"n":0},{"expt":3,"cond":"Dox+BH3","bak":"BAK S37C","pe":2.17,"n":0.08},{"expt":3,"cond":"Dox+BH3","bak":"BAK S37C","pe":2.41,"n":0.13},{"expt":3,"cond":"Dox+BH3","bak":"BAK S37C","pe":2.75,"n":0.13},{"expt":3,"cond":"Dox+BH3","bak":"BAK S37C","pe":2.94,"n":0.2},{"expt":3,"cond":"Dox+BH3","bak":"BAK S37C","pe":3.09,"n":0.42},{"expt":3,"cond":"Dox+BH3","bak":"BAK S37C","pe":3.28,"n":0.66},{"expt":3,"cond":"Dox+BH3","bak":"BAK S37C","pe":3.45,"n":1.05},{"expt":3,"cond":"Dox+BH3","bak":"BAK S37C","pe":3.62,"n":1.63},{"expt":3,"cond":"Dox+BH3","bak":"BAK S37C","pe":3.77,"n":1.39},{"expt":3,"cond":"Dox+BH3","bak":"BAK S37C","pe":3.91,"n":0.76},{"expt":3,"cond":"Dox+BH3","bak":"BAK S37C","pe":4.11,"n":0.27},{"expt":3,"cond":"Dox+BH3","bak":"BAK S37C","pe":4.3,"n":0.03},{"expt":3,"cond":"Dox+BH3","bak":"BAK S37C","pe":4.4,"n":0},{"expt":3,"cond":"Dox+BH3","bak":"BAK S37C","pe":5.27,"n":0},
{"expt":3,"cond":"Dox+BH3","bak":"BAK V34C","pe":0.3,"n":0},{"expt":3,"cond":"Dox+BH3","bak":"BAK V34C","pe":1.92,"n":0},{"expt":3,"cond":"Dox+BH3","bak":"BAK V34C","pe":2.26,"n":0.13},{"expt":3,"cond":"Dox+BH3","bak":"BAK V34C","pe":2.55,"n":0.21},{"expt":3,"cond":"Dox+BH3","bak":"BAK V34C","pe":2.75,"n":0.34},{"expt":3,"cond":"Dox+BH3","bak":"BAK V34C","pe":2.89,"n":0.73},{"expt":3,"cond":"Dox+BH3","bak":"BAK V34C","pe":3.04,"n":1.46},{"expt":3,"cond":"Dox+BH3","bak":"BAK V34C","pe":3.16,"n":1.8},{"expt":3,"cond":"Dox+BH3","bak":"BAK V34C","pe":3.28,"n":1.6},{"expt":3,"cond":"Dox+BH3","bak":"BAK V34C","pe":3.38,"n":0.83},{"expt":3,"cond":"Dox+BH3","bak":"BAK V34C","pe":3.52,"n":0.34},{"expt":3,"cond":"Dox+BH3","bak":"BAK V34C","pe":3.67,"n":0.1},{"expt":3,"cond":"Dox+BH3","bak":"BAK V34C","pe":3.82,"n":0},{"expt":3,"cond":"Dox+BH3","bak":"BAK V34C","pe":5.27,"n":0},
{"expt":3,"cond":"Dox+BH3","bak":"BAK ΔCys","pe":0.3,"n":0},{"expt":3,"cond":"Dox+BH3","bak":"BAK ΔCys","pe":2.02,"n":0},{"expt":3,"cond":"Dox+BH3","bak":"BAK ΔCys","pe":2.21,"n":0.07},{"expt":3,"cond":"Dox+BH3","bak":"BAK ΔCys","pe":2.41,"n":0.19},{"expt":3,"cond":"Dox+BH3","bak":"BAK ΔCys","pe":2.6,"n":0.28},{"expt":3,"cond":"Dox+BH3","bak":"BAK ΔCys","pe":2.8,"n":0.36},{"expt":3,"cond":"Dox+BH3","bak":"BAK ΔCys","pe":2.94,"n":0.6},{"expt":3,"cond":"Dox+BH3","bak":"BAK ΔCys","pe":3.09,"n":1.33},{"expt":3,"cond":"Dox+BH3","bak":"BAK ΔCys","pe":3.25,"n":1.57},{"expt":3,"cond":"Dox+BH3","bak":"BAK ΔCys","pe":3.38,"n":1.67},{"expt":3,"cond":"Dox+BH3","bak":"BAK ΔCys","pe":3.52,"n":1.14},{"expt":3,"cond":"Dox+BH3","bak":"BAK ΔCys","pe":3.67,"n":0.55},{"expt":3,"cond":"Dox+BH3","bak":"BAK ΔCys","pe":3.86,"n":0.26},{"expt":3,"cond":"Dox+BH3","bak":"BAK ΔCys","pe":4.06,"n":0.07},{"expt":3,"cond":"Dox+BH3","bak":"BAK ΔCys","pe":4.2,"n":0},{"expt":3,"cond":"Dox+BH3","bak":"BAK ΔCys","pe":5.27,"n":0},
{"expt":3,"cond":"Dox+BH3","bak":"BAK wt","pe":0.3,"n":0},{"expt":3,"cond":"Dox+BH3","bak":"BAK wt","pe":2.07,"n":0},{"expt":3,"cond":"Dox+BH3","bak":"BAK wt","pe":2.26,"n":0.31},{"expt":3,"cond":"Dox+BH3","bak":"BAK wt","pe":2.46,"n":0.55},{"expt":3,"cond":"Dox+BH3","bak":"BAK wt","pe":2.6,"n":0.72},{"expt":3,"cond":"Dox+BH3","bak":"BAK wt","pe":2.73,"n":0.6},{"expt":3,"cond":"Dox+BH3","bak":"BAK wt","pe":2.83,"n":0.46},{"expt":3,"cond":"Dox+BH3","bak":"BAK wt","pe":2.99,"n":0.65},{"expt":3,"cond":"Dox+BH3","bak":"BAK wt","pe":3.18,"n":0.94},{"expt":3,"cond":"Dox+BH3","bak":"BAK wt","pe":3.38,"n":0.92},{"expt":3,"cond":"Dox+BH3","bak":"BAK wt","pe":3.52,"n":0.84},{"expt":3,"cond":"Dox+BH3","bak":"BAK wt","pe":3.72,"n":0.55},{"expt":3,"cond":"Dox+BH3","bak":"BAK wt","pe":3.86,"n":0.26},{"expt":3,"cond":"Dox+BH3","bak":"BAK wt","pe":4.01,"n":0},{"expt":3,"cond":"Dox+BH3","bak":"BAK wt","pe":5.27,"n":0}
]},
"data":{"name":"hist"},
"spacing":4,
"vconcat":[
{"columns":3,"spacing":{"row":22.5,"column":70},"bounds":"flush",
"concat":[
{"width":171,"height":171,"title":{"text":"Untreated","dx":4},
"transform":[{"filter":"datum.expt==1 && datum.cond=='Untreated'"}],
"encoding":{"color":{"field":"bak","type":"nominal","scale":{"domain":["BAK wt","BAK ΔCys","BAK V34C","BAK S37C"],"range":["#e53a45","#28ace3","#f7a04a","#7cb63f"]},"legend":{"title":null,"encode":{"symbols":{"update":{"fillOpacity":{"value":0.6},"stroke":{"value":"#222"},"strokeWidth":{"value":1.2}}}}}}},
"layer":[
{"transform":[{"filter":"datum.bak=='BAK S37C'"}],"mark":{"type":"area","interpolate":"monotone","fillOpacity":0.5,"line":{"strokeWidth":1}},"encoding":{"x":{"field":"pe","type":"quantitative","scale":{"domain":[0.3,5.27],"nice":false,"zero":false},"axis":{"orient":"bottom","values":[1,2,3,4,5],"labelExpr":"'10'+['⁰','¹','²','³','⁴','⁵'][datum.value]","tickSize":4,"labelFontSize":10.5,"labelPadding":1,"title":null}},"y":{"field":"n","type":"quantitative","scale":{"domain":[-3,2],"nice":false},"axis":{"orient":"left","values":[0.92],"labelExpr":"'Expt 1'","ticks":false,"labelFontSize":15.5,"labelPadding":9,"title":null}}}},
{"transform":[{"filter":"datum.bak=='BAK V34C'"}],"mark":{"type":"area","interpolate":"monotone","fillOpacity":0.5,"line":{"strokeWidth":1}},"encoding":{"x":{"field":"pe","type":"quantitative","scale":{"domain":[0.3,5.27],"nice":false,"zero":false},"axis":{"orient":"bottom","values":[0.301,0.477,0.602,0.699,0.778,0.845,0.903,0.954,1.301,1.477,1.602,1.699,1.778,1.845,1.903,1.954,2.301,2.477,2.602,2.699,2.778,2.845,2.903,2.954,3.301,3.477,3.602,3.699,3.778,3.845,3.903,3.954,4.301,4.477,4.602,4.699,4.778,4.845,4.903,4.954],"tickSize":2,"labels":false,"title":null}},"y":{"field":"n","type":"quantitative","scale":{"domain":[-2,3],"nice":false},"axis":null}}},
{"transform":[{"filter":"datum.bak=='BAK ΔCys'"}],"mark":{"type":"area","interpolate":"monotone","fillOpacity":0.5,"line":{"strokeWidth":1}},"encoding":{"x":{"field":"pe","type":"quantitative","scale":{"domain":[0.3,5.27],"nice":false,"zero":false},"axis":null},"y":{"field":"n","type":"quantitative","scale":{"domain":[-1,4],"nice":false},"axis":null}}},
{"transform":[{"filter":"datum.bak=='BAK wt'"}],"mark":{"type":"area","interpolate":"monotone","fillOpacity":0.5,"line":{"strokeWidth":1}},"encoding":{"x":{"field":"pe","type":"quantitative","scale":{"domain":[0.3,5.27],"nice":false,"zero":false},"axis":null},"y":{"field":"n","type":"quantitative","scale":{"domain":[0,5],"nice":false},"axis":null}}}
],
"resolve":{"scale":{"y":"independent"},"axis":{"x":"independent","y":"independent"}}},

{"width":171,"height":171,"title":{"text":"Dox","dx":-7},
"transform":[{"filter":"datum.expt==1 && datum.cond=='Dox'"}],
"encoding":{"color":{"field":"bak","type":"nominal","scale":{"domain":["BAK wt","BAK ΔCys","BAK V34C","BAK S37C"],"range":["#e53a45","#28ace3","#f7a04a","#7cb63f"]},"legend":{"title":null,"encode":{"symbols":{"update":{"fillOpacity":{"value":0.6},"stroke":{"value":"#222"},"strokeWidth":{"value":1.2}}}}}}},
"layer":[
{"transform":[{"filter":"datum.bak=='BAK S37C'"}],"mark":{"type":"area","interpolate":"monotone","fillOpacity":0.5,"line":{"strokeWidth":1}},"encoding":{"x":{"field":"pe","type":"quantitative","scale":{"domain":[0.3,5.27],"nice":false,"zero":false},"axis":{"orient":"bottom","values":[1,2,3,4,5],"labelExpr":"'10'+['⁰','¹','²','³','⁴','⁵'][datum.value]","tickSize":4,"labelFontSize":10.5,"labelPadding":1,"title":null}},"y":{"field":"n","type":"quantitative","scale":{"domain":[-3,2],"nice":false},"axis":null}}},
{"transform":[{"filter":"datum.bak=='BAK V34C'"}],"mark":{"type":"area","interpolate":"monotone","fillOpacity":0.5,"line":{"strokeWidth":1}},"encoding":{"x":{"field":"pe","type":"quantitative","scale":{"domain":[0.3,5.27],"nice":false,"zero":false},"axis":{"orient":"bottom","values":[0.301,0.477,0.602,0.699,0.778,0.845,0.903,0.954,1.301,1.477,1.602,1.699,1.778,1.845,1.903,1.954,2.301,2.477,2.602,2.699,2.778,2.845,2.903,2.954,3.301,3.477,3.602,3.699,3.778,3.845,3.903,3.954,4.301,4.477,4.602,4.699,4.778,4.845,4.903,4.954],"tickSize":2,"labels":false,"title":null}},"y":{"field":"n","type":"quantitative","scale":{"domain":[-2,3],"nice":false},"axis":null}}},
{"transform":[{"filter":"datum.bak=='BAK ΔCys'"}],"mark":{"type":"area","interpolate":"monotone","fillOpacity":0.5,"line":{"strokeWidth":1}},"encoding":{"x":{"field":"pe","type":"quantitative","scale":{"domain":[0.3,5.27],"nice":false,"zero":false},"axis":null},"y":{"field":"n","type":"quantitative","scale":{"domain":[-1,4],"nice":false},"axis":null}}},
{"transform":[{"filter":"datum.bak=='BAK wt'"}],"mark":{"type":"area","interpolate":"monotone","fillOpacity":0.5,"line":{"strokeWidth":1}},"encoding":{"x":{"field":"pe","type":"quantitative","scale":{"domain":[0.3,5.27],"nice":false,"zero":false},"axis":null},"y":{"field":"n","type":"quantitative","scale":{"domain":[0,5],"nice":false},"axis":null}}}
],
"resolve":{"scale":{"y":"independent"},"axis":{"x":"independent","y":"independent"}}},

{"width":171,"height":171,"title":{"text":["Dox+","BH3 mimetics"]},
"transform":[{"filter":"datum.expt==1 && datum.cond=='Dox+BH3'"}],
"encoding":{"color":{"field":"bak","type":"nominal","scale":{"domain":["BAK wt","BAK ΔCys","BAK V34C","BAK S37C"],"range":["#e53a45","#28ace3","#f7a04a","#7cb63f"]},"legend":{"title":null,"encode":{"symbols":{"update":{"fillOpacity":{"value":0.6},"stroke":{"value":"#222"},"strokeWidth":{"value":1.2}}}}}}},
"layer":[
{"transform":[{"filter":"datum.bak=='BAK S37C'"}],"mark":{"type":"area","interpolate":"monotone","fillOpacity":0.5,"line":{"strokeWidth":1}},"encoding":{"x":{"field":"pe","type":"quantitative","scale":{"domain":[0.3,5.27],"nice":false,"zero":false},"axis":{"orient":"bottom","values":[1,2,3,4,5],"labelExpr":"'10'+['⁰','¹','²','³','⁴','⁵'][datum.value]","tickSize":4,"labelFontSize":10.5,"labelPadding":1,"title":null}},"y":{"field":"n","type":"quantitative","scale":{"domain":[-3,2],"nice":false},"axis":null}}},
{"transform":[{"filter":"datum.bak=='BAK V34C'"}],"mark":{"type":"area","interpolate":"monotone","fillOpacity":0.5,"line":{"strokeWidth":1}},"encoding":{"x":{"field":"pe","type":"quantitative","scale":{"domain":[0.3,5.27],"nice":false,"zero":false},"axis":{"orient":"bottom","values":[0.301,0.477,0.602,0.699,0.778,0.845,0.903,0.954,1.301,1.477,1.602,1.699,1.778,1.845,1.903,1.954,2.301,2.477,2.602,2.699,2.778,2.845,2.903,2.954,3.301,3.477,3.602,3.699,3.778,3.845,3.903,3.954,4.301,4.477,4.602,4.699,4.778,4.845,4.903,4.954],"tickSize":2,"labels":false,"title":null}},"y":{"field":"n","type":"quantitative","scale":{"domain":[-2,3],"nice":false},"axis":null}}},
{"transform":[{"filter":"datum.bak=='BAK ΔCys'"}],"mark":{"type":"area","interpolate":"monotone","fillOpacity":0.5,"line":{"strokeWidth":1}},"encoding":{"x":{"field":"pe","type":"quantitative","scale":{"domain":[0.3,5.27],"nice":false,"zero":false},"axis":null},"y":{"field":"n","type":"quantitative","scale":{"domain":[-1,4],"nice":false},"axis":null}}},
{"transform":[{"filter":"datum.bak=='BAK wt'"}],"mark":{"type":"area","interpolate":"monotone","fillOpacity":0.5,"line":{"strokeWidth":1}},"encoding":{"x":{"field":"pe","type":"quantitative","scale":{"domain":[0.3,5.27],"nice":false,"zero":false},"axis":null},"y":{"field":"n","type":"quantitative","scale":{"domain":[0,5],"nice":false},"axis":null}}}
],
"resolve":{"scale":{"y":"independent"},"axis":{"x":"independent","y":"independent"}}},

{"width":171,"height":171,
"transform":[{"filter":"datum.expt==2 && datum.cond=='Untreated'"}],
"encoding":{"color":{"field":"bak","type":"nominal","scale":{"domain":["BAK wt","BAK ΔCys","BAK V34C","BAK S37C"],"range":["#e53a45","#28ace3","#f7a04a","#7cb63f"]},"legend":{"title":null,"encode":{"symbols":{"update":{"fillOpacity":{"value":0.6},"stroke":{"value":"#222"},"strokeWidth":{"value":1.2}}}}}}},
"layer":[
{"transform":[{"filter":"datum.bak=='BAK S37C'"}],"mark":{"type":"area","interpolate":"monotone","fillOpacity":0.5,"line":{"strokeWidth":1}},"encoding":{"x":{"field":"pe","type":"quantitative","scale":{"domain":[0.3,5.27],"nice":false,"zero":false},"axis":{"orient":"bottom","values":[1,2,3,4,5],"labelExpr":"'10'+['⁰','¹','²','³','⁴','⁵'][datum.value]","tickSize":4,"labelFontSize":10.5,"labelPadding":1,"title":null}},"y":{"field":"n","type":"quantitative","scale":{"domain":[-3,2],"nice":false},"axis":{"orient":"left","values":[0.68],"labelExpr":"'Expt 2'","ticks":false,"labelFontSize":15.5,"labelPadding":9,"title":null}}}},
{"transform":[{"filter":"datum.bak=='BAK V34C'"}],"mark":{"type":"area","interpolate":"monotone","fillOpacity":0.5,"line":{"strokeWidth":1}},"encoding":{"x":{"field":"pe","type":"quantitative","scale":{"domain":[0.3,5.27],"nice":false,"zero":false},"axis":{"orient":"bottom","values":[0.301,0.477,0.602,0.699,0.778,0.845,0.903,0.954,1.301,1.477,1.602,1.699,1.778,1.845,1.903,1.954,2.301,2.477,2.602,2.699,2.778,2.845,2.903,2.954,3.301,3.477,3.602,3.699,3.778,3.845,3.903,3.954,4.301,4.477,4.602,4.699,4.778,4.845,4.903,4.954],"tickSize":2,"labels":false,"title":null}},"y":{"field":"n","type":"quantitative","scale":{"domain":[-2,3],"nice":false},"axis":null}}},
{"transform":[{"filter":"datum.bak=='BAK ΔCys'"}],"mark":{"type":"area","interpolate":"monotone","fillOpacity":0.5,"line":{"strokeWidth":1}},"encoding":{"x":{"field":"pe","type":"quantitative","scale":{"domain":[0.3,5.27],"nice":false,"zero":false},"axis":null},"y":{"field":"n","type":"quantitative","scale":{"domain":[-1,4],"nice":false},"axis":null}}},
{"transform":[{"filter":"datum.bak=='BAK wt'"}],"mark":{"type":"area","interpolate":"monotone","fillOpacity":0.5,"line":{"strokeWidth":1}},"encoding":{"x":{"field":"pe","type":"quantitative","scale":{"domain":[0.3,5.27],"nice":false,"zero":false},"axis":null},"y":{"field":"n","type":"quantitative","scale":{"domain":[0,5],"nice":false},"axis":null}}}
],
"resolve":{"scale":{"y":"independent"},"axis":{"x":"independent","y":"independent"}}},

{"width":171,"height":171,
"transform":[{"filter":"datum.expt==2 && datum.cond=='Dox'"}],
"encoding":{"color":{"field":"bak","type":"nominal","scale":{"domain":["BAK wt","BAK ΔCys","BAK V34C","BAK S37C"],"range":["#e53a45","#28ace3","#f7a04a","#7cb63f"]},"legend":{"title":null,"encode":{"symbols":{"update":{"fillOpacity":{"value":0.6},"stroke":{"value":"#222"},"strokeWidth":{"value":1.2}}}}}}},
"layer":[
{"transform":[{"filter":"datum.bak=='BAK S37C'"}],"mark":{"type":"area","interpolate":"monotone","fillOpacity":0.5,"line":{"strokeWidth":1}},"encoding":{"x":{"field":"pe","type":"quantitative","scale":{"domain":[0.3,5.27],"nice":false,"zero":false},"axis":{"orient":"bottom","values":[1,2,3,4,5],"labelExpr":"'10'+['⁰','¹','²','³','⁴','⁵'][datum.value]","tickSize":4,"labelFontSize":10.5,"labelPadding":1,"title":null}},"y":{"field":"n","type":"quantitative","scale":{"domain":[-3,2],"nice":false},"axis":null}}},
{"transform":[{"filter":"datum.bak=='BAK V34C'"}],"mark":{"type":"area","interpolate":"monotone","fillOpacity":0.5,"line":{"strokeWidth":1}},"encoding":{"x":{"field":"pe","type":"quantitative","scale":{"domain":[0.3,5.27],"nice":false,"zero":false},"axis":{"orient":"bottom","values":[0.301,0.477,0.602,0.699,0.778,0.845,0.903,0.954,1.301,1.477,1.602,1.699,1.778,1.845,1.903,1.954,2.301,2.477,2.602,2.699,2.778,2.845,2.903,2.954,3.301,3.477,3.602,3.699,3.778,3.845,3.903,3.954,4.301,4.477,4.602,4.699,4.778,4.845,4.903,4.954],"tickSize":2,"labels":false,"title":null}},"y":{"field":"n","type":"quantitative","scale":{"domain":[-2,3],"nice":false},"axis":null}}},
{"transform":[{"filter":"datum.bak=='BAK ΔCys'"}],"mark":{"type":"area","interpolate":"monotone","fillOpacity":0.5,"line":{"strokeWidth":1}},"encoding":{"x":{"field":"pe","type":"quantitative","scale":{"domain":[0.3,5.27],"nice":false,"zero":false},"axis":null},"y":{"field":"n","type":"quantitative","scale":{"domain":[-1,4],"nice":false},"axis":null}}},
{"transform":[{"filter":"datum.bak=='BAK wt'"}],"mark":{"type":"area","interpolate":"monotone","fillOpacity":0.5,"line":{"strokeWidth":1}},"encoding":{"x":{"field":"pe","type":"quantitative","scale":{"domain":[0.3,5.27],"nice":false,"zero":false},"axis":null},"y":{"field":"n","type":"quantitative","scale":{"domain":[0,5],"nice":false},"axis":null}}}
],
"resolve":{"scale":{"y":"independent"},"axis":{"x":"independent","y":"independent"}}},

{"width":171,"height":171,
"transform":[{"filter":"datum.expt==2 && datum.cond=='Dox+BH3'"}],
"encoding":{"color":{"field":"bak","type":"nominal","scale":{"domain":["BAK wt","BAK ΔCys","BAK V34C","BAK S37C"],"range":["#e53a45","#28ace3","#f7a04a","#7cb63f"]},"legend":{"title":null,"encode":{"symbols":{"update":{"fillOpacity":{"value":0.6},"stroke":{"value":"#222"},"strokeWidth":{"value":1.2}}}}}}},
"layer":[
{"transform":[{"filter":"datum.bak=='BAK S37C'"}],"mark":{"type":"area","interpolate":"monotone","fillOpacity":0.5,"line":{"strokeWidth":1}},"encoding":{"x":{"field":"pe","type":"quantitative","scale":{"domain":[0.3,5.27],"nice":false,"zero":false},"axis":{"orient":"bottom","values":[1,2,3,4,5],"labelExpr":"'10'+['⁰','¹','²','³','⁴','⁵'][datum.value]","tickSize":4,"labelFontSize":10.5,"labelPadding":1,"title":null}},"y":{"field":"n","type":"quantitative","scale":{"domain":[-3,2],"nice":false},"axis":null}}},
{"transform":[{"filter":"datum.bak=='BAK V34C'"}],"mark":{"type":"area","interpolate":"monotone","fillOpacity":0.5,"line":{"strokeWidth":1}},"encoding":{"x":{"field":"pe","type":"quantitative","scale":{"domain":[0.3,5.27],"nice":false,"zero":false},"axis":{"orient":"bottom","values":[0.301,0.477,0.602,0.699,0.778,0.845,0.903,0.954,1.301,1.477,1.602,1.699,1.778,1.845,1.903,1.954,2.301,2.477,2.602,2.699,2.778,2.845,2.903,2.954,3.301,3.477,3.602,3.699,3.778,3.845,3.903,3.954,4.301,4.477,4.602,4.699,4.778,4.845,4.903,4.954],"tickSize":2,"labels":false,"title":null}},"y":{"field":"n","type":"quantitative","scale":{"domain":[-2,3],"nice":false},"axis":null}}},
{"transform":[{"filter":"datum.bak=='BAK ΔCys'"}],"mark":{"type":"area","interpolate":"monotone","fillOpacity":0.5,"line":{"strokeWidth":1}},"encoding":{"x":{"field":"pe","type":"quantitative","scale":{"domain":[0.3,5.27],"nice":false,"zero":false},"axis":null},"y":{"field":"n","type":"quantitative","scale":{"domain":[-1,4],"nice":false},"axis":null}}},
{"transform":[{"filter":"datum.bak=='BAK wt'"}],"mark":{"type":"area","interpolate":"monotone","fillOpacity":0.5,"line":{"strokeWidth":1}},"encoding":{"x":{"field":"pe","type":"quantitative","scale":{"domain":[0.3,5.27],"nice":false,"zero":false},"axis":null},"y":{"field":"n","type":"quantitative","scale":{"domain":[0,5],"nice":false},"axis":null}}}
],
"resolve":{"scale":{"y":"independent"},"axis":{"x":"independent","y":"independent"}}},

{"width":171,"height":171,
"transform":[{"filter":"datum.expt==3 && datum.cond=='Untreated'"}],
"encoding":{"color":{"field":"bak","type":"nominal","scale":{"domain":["BAK wt","BAK ΔCys","BAK V34C","BAK S37C"],"range":["#e53a45","#28ace3","#f7a04a","#7cb63f"]},"legend":{"title":null,"encode":{"symbols":{"update":{"fillOpacity":{"value":0.6},"stroke":{"value":"#222"},"strokeWidth":{"value":1.2}}}}}}},
"layer":[
{"transform":[{"filter":"datum.bak=='BAK S37C'"}],"mark":{"type":"area","interpolate":"monotone","fillOpacity":0.5,"line":{"strokeWidth":1}},"encoding":{"x":{"field":"pe","type":"quantitative","scale":{"domain":[0.3,5.27],"nice":false,"zero":false},"axis":{"orient":"bottom","values":[1,2,3,4,5],"labelExpr":"'10'+['⁰','¹','²','³','⁴','⁵'][datum.value]","tickSize":4,"labelFontSize":10.5,"labelPadding":1,"title":"PE-A","titleFontSize":9,"titleFontWeight":"bold","titlePadding":4,"titleColor":"#000"}},"y":{"field":"n","type":"quantitative","scale":{"domain":[-3,2],"nice":false},"axis":{"orient":"left","values":[0.83],"labelExpr":"'Expt 3'","ticks":false,"labelFontSize":15.5,"labelPadding":9,"title":null}}}},
{"transform":[{"filter":"datum.bak=='BAK V34C'"}],"mark":{"type":"area","interpolate":"monotone","fillOpacity":0.5,"line":{"strokeWidth":1}},"encoding":{"x":{"field":"pe","type":"quantitative","scale":{"domain":[0.3,5.27],"nice":false,"zero":false},"axis":{"orient":"bottom","values":[0.301,0.477,0.602,0.699,0.778,0.845,0.903,0.954,1.301,1.477,1.602,1.699,1.778,1.845,1.903,1.954,2.301,2.477,2.602,2.699,2.778,2.845,2.903,2.954,3.301,3.477,3.602,3.699,3.778,3.845,3.903,3.954,4.301,4.477,4.602,4.699,4.778,4.845,4.903,4.954],"tickSize":2,"labels":false,"title":null}},"y":{"field":"n","type":"quantitative","scale":{"domain":[-2,3],"nice":false},"axis":null}}},
{"transform":[{"filter":"datum.bak=='BAK ΔCys'"}],"mark":{"type":"area","interpolate":"monotone","fillOpacity":0.5,"line":{"strokeWidth":1}},"encoding":{"x":{"field":"pe","type":"quantitative","scale":{"domain":[0.3,5.27],"nice":false,"zero":false},"axis":null},"y":{"field":"n","type":"quantitative","scale":{"domain":[-1,4],"nice":false},"axis":null}}},
{"transform":[{"filter":"datum.bak=='BAK wt'"}],"mark":{"type":"area","interpolate":"monotone","fillOpacity":0.5,"line":{"strokeWidth":1}},"encoding":{"x":{"field":"pe","type":"quantitative","scale":{"domain":[0.3,5.27],"nice":false,"zero":false},"axis":null},"y":{"field":"n","type":"quantitative","scale":{"domain":[0,5],"nice":false},"axis":null}}}
],
"resolve":{"scale":{"y":"independent"},"axis":{"x":"independent","y":"independent"}}},

{"width":171,"height":171,
"transform":[{"filter":"datum.expt==3 && datum.cond=='Dox'"}],
"encoding":{"color":{"field":"bak","type":"nominal","scale":{"domain":["BAK wt","BAK ΔCys","BAK V34C","BAK S37C"],"range":["#e53a45","#28ace3","#f7a04a","#7cb63f"]},"legend":{"title":null,"encode":{"symbols":{"update":{"fillOpacity":{"value":0.6},"stroke":{"value":"#222"},"strokeWidth":{"value":1.2}}}}}}},
"layer":[
{"transform":[{"filter":"datum.bak=='BAK S37C'"}],"mark":{"type":"area","interpolate":"monotone","fillOpacity":0.5,"line":{"strokeWidth":1}},"encoding":{"x":{"field":"pe","type":"quantitative","scale":{"domain":[0.3,5.27],"nice":false,"zero":false},"axis":{"orient":"bottom","values":[1,2,3,4,5],"labelExpr":"'10'+['⁰','¹','²','³','⁴','⁵'][datum.value]","tickSize":4,"labelFontSize":10.5,"labelPadding":1,"title":"PE-A","titleFontSize":9,"titleFontWeight":"bold","titlePadding":4,"titleColor":"#000"}},"y":{"field":"n","type":"quantitative","scale":{"domain":[-3,2],"nice":false},"axis":null}}},
{"transform":[{"filter":"datum.bak=='BAK V34C'"}],"mark":{"type":"area","interpolate":"monotone","fillOpacity":0.5,"line":{"strokeWidth":1}},"encoding":{"x":{"field":"pe","type":"quantitative","scale":{"domain":[0.3,5.27],"nice":false,"zero":false},"axis":{"orient":"bottom","values":[0.301,0.477,0.602,0.699,0.778,0.845,0.903,0.954,1.301,1.477,1.602,1.699,1.778,1.845,1.903,1.954,2.301,2.477,2.602,2.699,2.778,2.845,2.903,2.954,3.301,3.477,3.602,3.699,3.778,3.845,3.903,3.954,4.301,4.477,4.602,4.699,4.778,4.845,4.903,4.954],"tickSize":2,"labels":false,"title":null}},"y":{"field":"n","type":"quantitative","scale":{"domain":[-2,3],"nice":false},"axis":null}}},
{"transform":[{"filter":"datum.bak=='BAK ΔCys'"}],"mark":{"type":"area","interpolate":"monotone","fillOpacity":0.5,"line":{"strokeWidth":1}},"encoding":{"x":{"field":"pe","type":"quantitative","scale":{"domain":[0.3,5.27],"nice":false,"zero":false},"axis":null},"y":{"field":"n","type":"quantitative","scale":{"domain":[-1,4],"nice":false},"axis":null}}},
{"transform":[{"filter":"datum.bak=='BAK wt'"}],"mark":{"type":"area","interpolate":"monotone","fillOpacity":0.5,"line":{"strokeWidth":1}},"encoding":{"x":{"field":"pe","type":"quantitative","scale":{"domain":[0.3,5.27],"nice":false,"zero":false},"axis":null},"y":{"field":"n","type":"quantitative","scale":{"domain":[0,5],"nice":false},"axis":null}}}
],
"resolve":{"scale":{"y":"independent"},"axis":{"x":"independent","y":"independent"}}},

{"width":171,"height":171,
"transform":[{"filter":"datum.expt==3 && datum.cond=='Dox+BH3'"}],
"encoding":{"color":{"field":"bak","type":"nominal","scale":{"domain":["BAK wt","BAK ΔCys","BAK V34C","BAK S37C"],"range":["#e53a45","#28ace3","#f7a04a","#7cb63f"]},"legend":{"title":null,"encode":{"symbols":{"update":{"fillOpacity":{"value":0.6},"stroke":{"value":"#222"},"strokeWidth":{"value":1.2}}}}}}},
"layer":[
{"transform":[{"filter":"datum.bak=='BAK S37C'"}],"mark":{"type":"area","interpolate":"monotone","fillOpacity":0.5,"line":{"strokeWidth":1}},"encoding":{"x":{"field":"pe","type":"quantitative","scale":{"domain":[0.3,5.27],"nice":false,"zero":false},"axis":{"orient":"bottom","values":[1,2,3,4,5],"labelExpr":"'10'+['⁰','¹','²','³','⁴','⁵'][datum.value]","tickSize":4,"labelFontSize":10.5,"labelPadding":1,"title":"PE-A","titleFontSize":9,"titleFontWeight":"bold","titlePadding":4,"titleColor":"#000"}},"y":{"field":"n","type":"quantitative","scale":{"domain":[-3,2],"nice":false},"axis":null}}},
{"transform":[{"filter":"datum.bak=='BAK V34C'"}],"mark":{"type":"area","interpolate":"monotone","fillOpacity":0.5,"line":{"strokeWidth":1}},"encoding":{"x":{"field":"pe","type":"quantitative","scale":{"domain":[0.3,5.27],"nice":false,"zero":false},"axis":{"orient":"bottom","values":[0.301,0.477,0.602,0.699,0.778,0.845,0.903,0.954,1.301,1.477,1.602,1.699,1.778,1.845,1.903,1.954,2.301,2.477,2.602,2.699,2.778,2.845,2.903,2.954,3.301,3.477,3.602,3.699,3.778,3.845,3.903,3.954,4.301,4.477,4.602,4.699,4.778,4.845,4.903,4.954],"tickSize":2,"labels":false,"title":null}},"y":{"field":"n","type":"quantitative","scale":{"domain":[-2,3],"nice":false},"axis":null}}},
{"transform":[{"filter":"datum.bak=='BAK ΔCys'"}],"mark":{"type":"area","interpolate":"monotone","fillOpacity":0.5,"line":{"strokeWidth":1}},"encoding":{"x":{"field":"pe","type":"quantitative","scale":{"domain":[0.3,5.27],"nice":false,"zero":false},"axis":null},"y":{"field":"n","type":"quantitative","scale":{"domain":[-1,4],"nice":false},"axis":null}}},
{"transform":[{"filter":"datum.bak=='BAK wt'"}],"mark":{"type":"area","interpolate":"monotone","fillOpacity":0.5,"line":{"strokeWidth":1}},"encoding":{"x":{"field":"pe","type":"quantitative","scale":{"domain":[0.3,5.27],"nice":false,"zero":false},"axis":null},"y":{"field":"n","type":"quantitative","scale":{"domain":[0,5],"nice":false},"axis":null}}}
],
"resolve":{"scale":{"y":"independent"},"axis":{"x":"independent","y":"independent"}}}
]},
{"width":654,"height":52,"view":{"stroke":null},"data":{"values":[{"note":"arrow"}]},
"layer":[
{"mark":{"type":"rule","strokeWidth":4.5,"color":"#000"},"encoding":{"x":{"datum":0,"type":"quantitative","scale":{"domain":[0,100]},"axis":null},"x2":{"datum":97.9},"y":{"datum":0.8,"type":"quantitative","scale":{"domain":[0,1]},"axis":null}}},
{"mark":{"type":"point","shape":"triangle-right","filled":true,"color":"#000","opacity":1,"size":210},"encoding":{"x":{"datum":98.8,"type":"quantitative","scale":{"domain":[0,100]},"axis":null},"y":{"datum":0.8,"type":"quantitative","scale":{"domain":[0,1]},"axis":null}}},
{"mark":{"type":"text","text":["Cells with activated BAK","(G3172 +ve)"],"align":"left","baseline":"top","fontSize":15.5,"lineHeight":18.5,"color":"#000","font":"Liberation Sans"},"encoding":{"x":{"datum":35.3,"type":"quantitative","scale":{"domain":[0,100]},"axis":null},"y":{"datum":0.42,"type":"quantitative","scale":{"domain":[0,1]},"axis":null}}}
]}
]
}
